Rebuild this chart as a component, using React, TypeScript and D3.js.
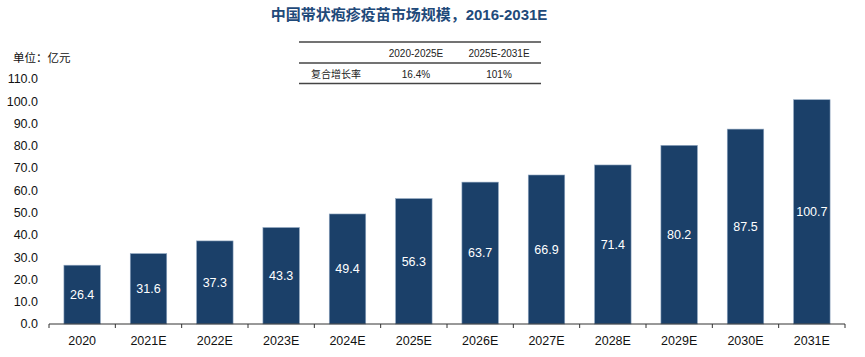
import React from "react";
import * as d3 from "d3";

const categories = ["2020", "2021E", "2022E", "2023E", "2024E", "2025E", "2026E", "2027E", "2028E", "2029E", "2030E", "2031E"];
const values = [26.4, 31.6, 37.3, 43.3, 49.4, 56.3, 63.7, 66.9, 71.4, 80.2, 87.5, 100.7];
const yTicks = [0, 10, 20, 30, 40, 50, 60, 70, 80, 90, 100, 110];
const tableHeader = ["", "2020-2025E", "2025E-2031E"];
const tableRow = ["复合增长率", "16.4%", "101%"];

const W = 865;
const H = 357;
const FONT = "Arial, 'Liberation Sans', 'Noto Sans CJK SC', sans-serif";
const BAR = "#1b4069";

export default function App() {
  const x = d3.scaleBand<string>().domain(categories).range([49, 845]).paddingInner(0.45).paddingOuter(0.225);
  const y = d3.scaleLinear().domain([0, 110]).range([324, 79]);
  const step = x.step();
  const x0 = 49;
  const colX = [336, 416, 499];

  return (
    <svg width={W} height={H} style={{ position: "absolute", left: 0, top: 0, background: "#fff" }} fontFamily={FONT}>
      <text x={409} y={20} textAnchor="middle" fontSize={15} fontWeight="bold" fill="#1f4a7a">
        中国带状疱疹疫苗市场规模，2016-2031E
      </text>
      {/* table */}
      <line x1={299} x2={541} y1={42} y2={42} stroke="#444" strokeWidth={1.5} />
      <line x1={299} x2={541} y1={63} y2={63} stroke="#444" strokeWidth={1.5} />
      <line x1={299} x2={541} y1={83.5} y2={83.5} stroke="#444" strokeWidth={1.5} />
      {tableHeader.map((t, i) => (
        <text key={"h" + i} x={colX[i]} y={53} dy="0.35em" textAnchor="middle" fontSize={10} fill="#222">{t}</text>
      ))}
      {tableRow.map((t, i) => (
        <text key={"r" + i} x={colX[i]} y={74} dy="0.35em" textAnchor="middle" fontSize={10} fill="#222">{t}</text>
      ))}
      <text x={13} y={58} dy="0.35em" fontSize={11.5} fill="#111">单位：亿元</text>
      {yTicks.map((t) => (
        <text key={t} x={38} y={y(t)} dy="0.35em" textAnchor="end" fontSize={12.5} fill="#111">
          {t.toFixed(1)}
        </text>
      ))}
      {categories.map((c, i) => (
        <g key={c}>
          <rect x={x(c)} y={y(values[i])} width={x.bandwidth()} height={y(0) - y(values[i])} fill={BAR} stroke="#8fa6c0" strokeWidth={0.6} />
          <text x={x(c)! + x.bandwidth() / 2} y={(y(0) + y(values[i])) / 2} dy="0.35em" textAnchor="middle" fontSize={12.5} fill="#fff">
            {values[i].toFixed(1)}
          </text>
          <text x={x(c)! + x.bandwidth() / 2} y={341} dy="0.35em" textAnchor="middle" fontSize={12.5} fill="#111">{c}</text>
        </g>
      ))}
      <line x1={x0} x2={845} y1={324} y2={324} stroke="#333" strokeWidth={1} />
      {d3.range(categories.length + 1).map((i) => (
        <line key={i} x1={x0 + i * step} x2={x0 + i * step} y1={324} y2={328} stroke="#333" strokeWidth={1} />
      ))}
    </svg>
  );
}
